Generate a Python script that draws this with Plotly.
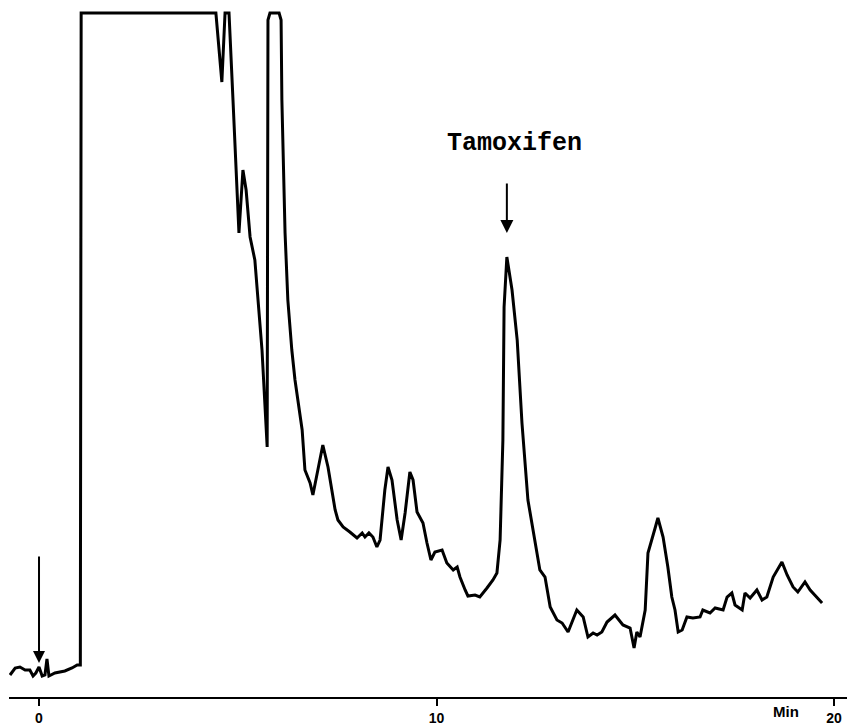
import plotly.graph_objects as go

# Retention time (min) and detector response (arbitrary units)
time_min = [
    -0.73, -0.60, -0.48, -0.35, -0.23, -0.15, -0.08, 0.00, 0.08, 0.15, 0.20, 0.25, 0.40, 0.65, 0.83, 0.96, 1.04,
    1.06, 4.45, 4.60, 4.68, 4.78, 4.88, 4.98, 5.03, 5.13, 5.21, 5.31, 5.43, 5.61, 5.74,
    5.76, 5.81, 6.04, 6.09, 6.11, 6.19, 6.26, 6.36, 6.44, 6.62, 6.69, 6.82, 6.89,
    7.14, 7.27, 7.45, 7.52, 7.65, 7.82, 8.00, 8.13, 8.20, 8.30, 8.40, 8.50, 8.58,
    8.70, 8.78, 8.88, 9.01, 9.11, 9.21, 9.33, 9.41, 9.51, 9.66, 9.76, 9.86, 9.96,
    10.14, 10.26, 10.42, 10.52, 10.59, 10.72, 10.79, 10.97, 11.09, 11.27, 11.42, 11.52,
    11.60, 11.67, 11.70, 11.77, 11.90, 12.03, 12.15, 12.30, 12.48, 12.60, 12.73, 12.86,
    13.03, 13.16, 13.31, 13.43, 13.53, 13.69, 13.81, 13.94, 14.04, 14.16, 14.29, 14.49,
    14.69, 14.87, 14.97, 15.04, 15.12, 15.25, 15.32, 15.50, 15.57, 15.70, 15.82, 15.92,
    16.00, 16.08, 16.18, 16.30, 16.45, 16.63, 16.70, 16.88, 17.01, 17.21, 17.31, 17.43,
    17.51, 17.69, 17.76, 17.89, 18.06, 18.19, 18.31, 18.47, 18.69, 18.82, 18.97, 19.09,
    19.27, 19.40, 19.52, 19.70,
]
response = [
    22, 29, 30, 27, 27, 21, 24, 30, 21, 22, 38, 21, 24, 26, 29, 32, 32,
    684, 684, 615, 684, 684, 597, 497, 464, 527, 507, 460, 437, 347, 250,
    677, 684, 684, 677, 597, 464, 397, 347, 317, 267, 227, 214, 202,
    252, 230, 187, 177, 170, 165, 159, 164, 160, 164, 160, 150, 157,
    207, 230, 217, 177, 157, 184, 225, 217, 185, 174, 154, 137, 145,
    147, 134, 127, 130, 120, 107, 101, 102, 100, 109, 117, 124,
    157, 257, 390, 440, 407, 357, 274, 197, 157, 127, 120, 90,
    77, 74, 65, 77, 87, 80, 60, 64, 62, 65, 75, 82,
    72, 69, 49, 65, 60, 87, 144, 169, 179, 160, 130, 100,
    87, 65, 67, 80, 79, 80, 87, 84, 89, 87, 100, 104,
    92, 87, 104, 99, 107, 97, 100, 120, 135, 122, 110, 105,
    115, 107, 102, 94,
]

tick_vals = [0, 10, 20]
tick_text = ["0", "10", "20"]

peak_label = "Tamoxifen"
peak_time = 11.77
peak_arrow_tip = 464
peak_arrow_tail = 515
peak_label_y = 554

inject_time = 0.0
inject_arrow_tip = 34
inject_arrow_tail = 142

fig = go.Figure()
fig.add_trace(go.Scatter(
    x=time_min, y=response, mode="lines",
    line=dict(color="black", width=3),
    hoverinfo="skip", showlegend=False,
))

fig.update_layout(
    width=847, height=726,
    margin=dict(l=9, r=0, t=0, b=29, autoexpand=False),
    paper_bgcolor="white", plot_bgcolor="white",
    xaxis=dict(
        range=[-0.755, 20.327], showgrid=False, zeroline=False, automargin=False,
        showline=True, linecolor="black", linewidth=2,
        ticks="outside", ticklen=7, tickwidth=2, tickcolor="black",
        tickvals=tick_vals, ticktext=tick_text,
        tickfont=dict(family="Liberation Sans, Arial", size=14, color="black", weight="bold"),
    ),
    yaxis=dict(range=[0, 697], visible=False, automargin=False),
    annotations=[
        dict(x=11.97, y=peak_label_y, xref="x", yref="y", text=peak_label, showarrow=False,
             font=dict(family="Liberation Mono, Courier New, monospace", size=25, color="black", weight="bold")),
        dict(x=peak_time, y=peak_arrow_tip, ax=peak_time, ay=peak_arrow_tail, xref="x", yref="y",
             axref="x", ayref="y", text="", showarrow=True, arrowhead=2, arrowsize=1.3,
             arrowwidth=2, arrowcolor="black"),
        dict(x=inject_time, y=inject_arrow_tip, ax=inject_time, ay=inject_arrow_tail, xref="x", yref="y",
             axref="x", ayref="y", text="", showarrow=True, arrowhead=2, arrowsize=1.2,
             arrowwidth=2, arrowcolor="black"),
        dict(x=18.79, y=-0.0201, xref="x", yref="paper", yanchor="middle", text="Min", showarrow=False,
             font=dict(family="Liberation Sans, Arial", size=15, color="black", weight="bold")),
    ],
)

fig.write_html("out.html", config={"displayModeBar": False},
               post_script="document.body.style.margin='0';document.body.style.overflow='hidden';")
